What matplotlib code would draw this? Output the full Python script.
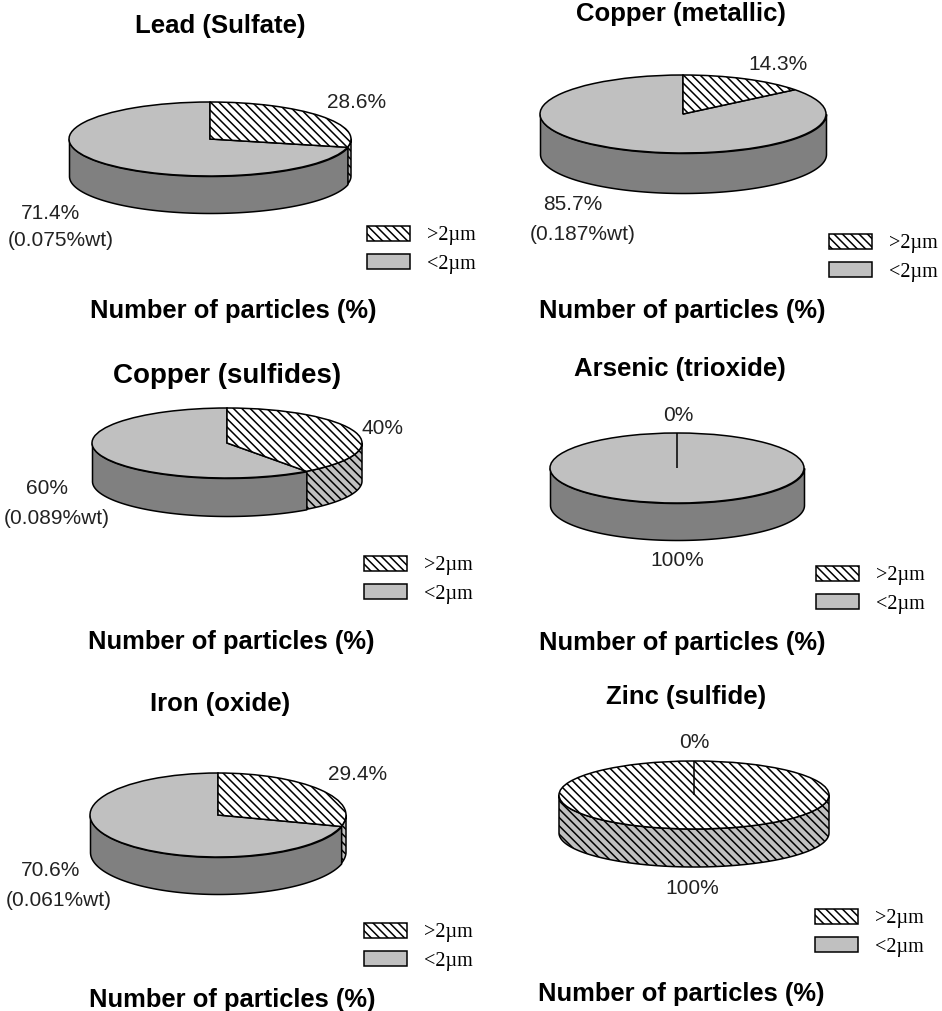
import numpy as np
import matplotlib
matplotlib.use("Agg")
import matplotlib.pyplot as plt
from matplotlib.patches import Patch

W = 942
H = 1011

# data
titles = ["Lead (Sulfate)", "Copper (metallic)", "Copper (sulfides)",
          "Arsenic (trioxide)", "Iron (oxide)", "Zinc (sulfide)"]
over_2um = [28.6, 14.3, 40, 0, 29.4, 100]
under_2um = [71.4, 85.7, 60, 100, 70.6, 0]
over_labels = ["28.6%", "14.3%", "40%", "0%", "29.4%", "0%"]
under_labels = ["71.4%", "85.7%", "60%", "100%", "70.6%", "100%"]
wt_labels = ["(0.075%wt)", "(0.187%wt)", "(0.089%wt)", None, "(0.061%wt)", None]
xlabel = "Number of particles (%)"
legend_labels = [">2\u00b5m", "<2\u00b5m"]

# layout, pixels from top left of the picture
pie_cx = [210, 683, 227, 677, 218, 694]
pie_cy = [139, 114, 443, 468, 815, 795]
pie_rx = [141, 143, 135, 127, 128, 135]
pie_ry = [37, 39, 35, 35, 42, 34]
pie_depth = [37, 40, 38, 37, 37, 38]
title_xy = [(220, 24), (681, 12), (227, 374), (680, 367), (220, 702), (686, 695)]
xlabel_xy = [(233, 309), (682, 309), (231, 640), (682, 641), (232, 998), (681, 992)]
over_xy = [(357, 101), (778, 62), (383, 427), (678, 414), (358, 773), (694, 740)]
under_xy = [(51, 211), (573, 203), (47, 487), (677, 559), (51, 869), (692, 886)]
wt_xy = [(61, 239), (583, 232), (57, 516), None, (59, 898), None]
legend_xy = [(367, 226), (829, 234), (364, 556), (816, 566), (364, 923), (815, 909)]

LIGHT = "#c0c0c0"
DARK = "#808080"
TEXT = "#222222"
LW = 1.1
HATCH = "\\\\\\\\"

plt.rcParams["font.family"] = ["Liberation Sans", "DejaVu Sans"]
plt.rcParams["hatch.linewidth"] = 1.1

fig = plt.figure(figsize=(W / 100, H / 100), dpi=100, facecolor="white")


def put_text(xy, s, size, weight="normal", color=TEXT):
    # +2: va=center sits a bit high against the read-off positions
    fig.text(xy[0] / W, 1 - (xy[1] + 2) / H, s, fontsize=size, fontweight=weight,
             color=color, ha="center", va="center")


def draw_side(ax, low, high, depth, face, hatch=None):
    t = np.radians(np.linspace(low, high, 120))
    x = np.cos(t)
    y = np.sin(t)
    ax.fill_between(x, y, y - depth, facecolor=face, edgecolor="black", hatch=hatch,
                    linewidth=LW, clip_on=False, zorder=1)


for i in range(6):
    rx, ry = pie_rx[i], pie_ry[i]
    box = [(pie_cx[i] - rx) / W, 1 - (pie_cy[i] + ry) / H, 2 * rx / W, 2 * ry / H]
    ax = fig.add_axes(box)
    wedges, _ = ax.pie([over_2um[i], under_2um[i]], colors=["white", LIGHT],
                       hatch=[HATCH, None], startangle=90, counterclock=False,
                       wedgeprops=dict(edgecolor="black", linewidth=LW, clip_on=False, zorder=3))
    # a 0% slice still shows as its spoke, keep it above the full disc
    if over_2um[i] < under_2um[i]:
        wedges[0].set_zorder(4)
    else:
        wedges[1].set_zorder(4)
    ax.set_aspect("auto")
    ax.set_xlim(-1, 1)
    ax.set_ylim(-1, 1)
    ax.axis("off")

    # rim, front half only
    split = 90 - 360 * over_2um[i] / 100
    d = pie_depth[i] / ry
    if split < 0:
        draw_side(ax, max(-180, split), 0, d, LIGHT, hatch=HATCH)
    if min(0, split) > -180:
        draw_side(ax, -180, min(0, split), d, DARK)

    put_text(title_xy[i], titles[i], 20 if i == 2 else 18.5, "bold", "black")
    put_text(xlabel_xy[i], xlabel, 18.4, "bold", "black")
    put_text(over_xy[i], over_labels[i], 15)
    put_text(under_xy[i], under_labels[i], 15)
    if wt_labels[i] is not None:
        put_text(wt_xy[i], wt_labels[i], 15)

    handles = [Patch(facecolor="white", edgecolor="black", hatch=HATCH, linewidth=LW),
               Patch(facecolor=LIGHT, edgecolor="black", linewidth=LW)]
    fig.legend(handles, legend_labels, loc="upper left",
               bbox_to_anchor=(legend_xy[i][0] / W, 1 - legend_xy[i][1] / H),
               frameon=False, borderpad=0, borderaxespad=0,
               prop=dict(family="Liberation Serif", size=14.5),
               handlelength=2.14, handleheight=0.75, handletextpad=0.85, labelspacing=0.45)

fig.savefig("out.png", dpi=100)
